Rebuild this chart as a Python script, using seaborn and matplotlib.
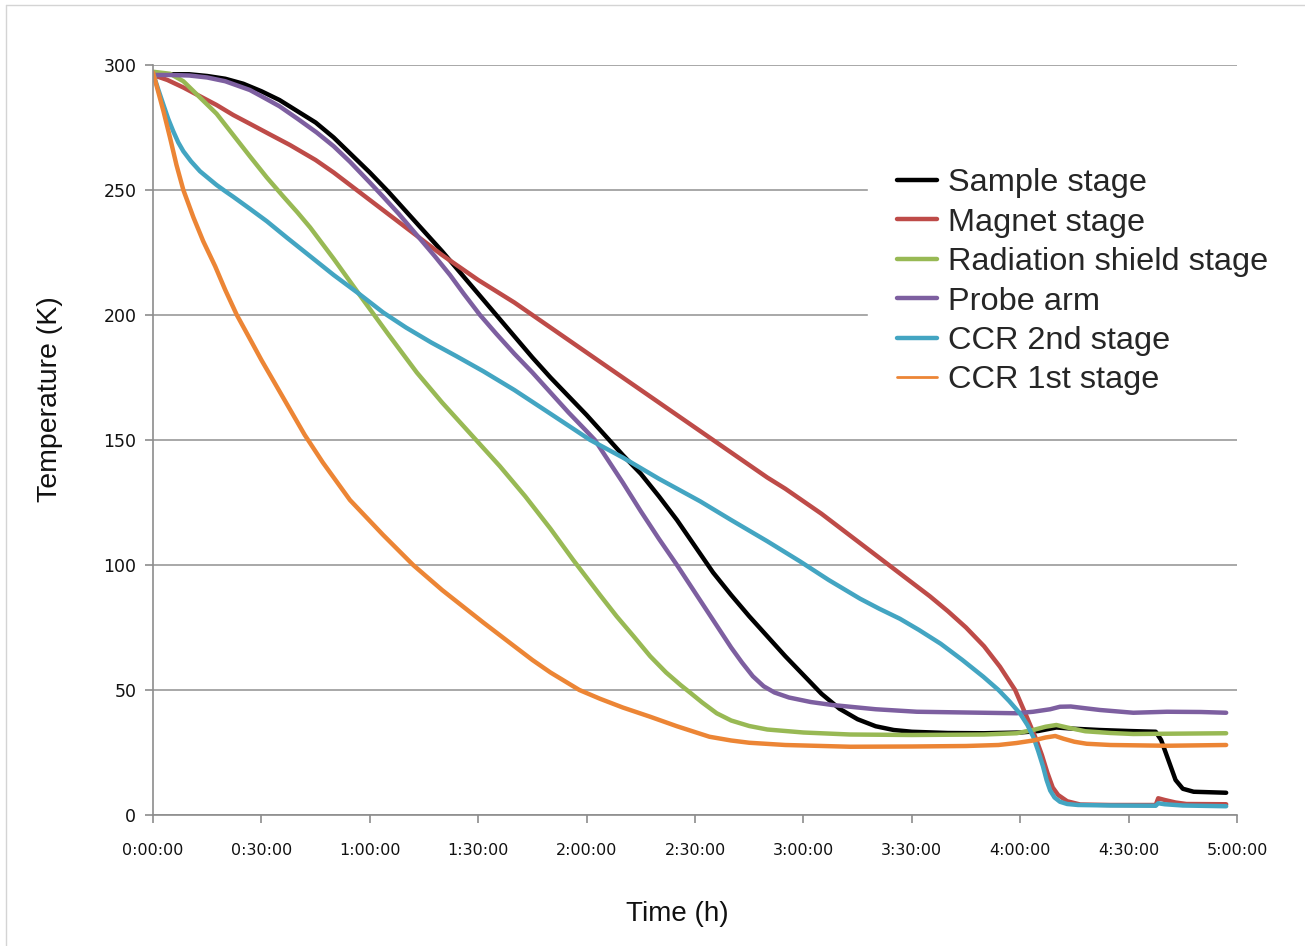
import matplotlib
matplotlib.use("Agg")
import matplotlib.pyplot as plt
from matplotlib.lines import Line2D
import seaborn as sns

# ==============================
# DATA  (time in minutes, temperature in K)
# ==============================
sample_t = [0, 5, 10, 15, 20, 25, 30, 35, 40, 45, 50, 55, 60, 65, 70, 75, 80, 85, 90,
            95, 100, 105, 110, 115, 120, 125, 130, 135, 140, 145, 150, 155, 160, 165,
            170, 175, 180, 185, 190, 195, 200, 205, 210, 220, 230, 240, 245, 250, 255,
            262, 270, 277.5, 279, 281, 283, 285, 288, 297]
sample_T = [296, 296.3, 296.3, 295.6, 294.5, 292.5, 289.5, 286, 281.5, 277, 271, 264,
            257, 249.5, 241.5, 233.5, 225.5, 217, 208.5, 200, 191.5, 183, 175, 167.5,
            160, 152, 144, 136.5, 127.5, 118, 107.5, 97, 88, 79.5, 71.5, 63.5, 56,
            48.5, 42.5, 38.3, 35.5, 34, 33.3, 32.8, 32.7, 33, 33.6, 35, 34.5, 34, 33.6,
            33.3, 30, 22, 14, 10.5, 9.3, 8.9]

magnet_t = [0, 4, 8.4, 13, 17.6, 22.2, 26.8, 32, 37.9, 45, 50, 55, 60, 65, 70, 75, 80,
            85, 90, 95, 100, 105, 110, 115, 120, 125, 130, 135, 140, 145, 150, 155, 160,
            165, 170, 175, 180, 185, 190, 195, 200, 205, 210, 215, 220, 225, 230, 234.4,
            238.6, 241.8, 244.5, 246, 247.5, 249, 250.5, 253, 256.6, 265, 277.5, 278.2,
            280, 283, 286, 297]
magnet_T = [296, 294, 291, 287.5, 284, 280, 276.5, 272.5, 268, 262, 257, 251.5, 246,
            240.5, 235, 229.5, 224, 219, 214, 209.5, 205, 200, 195, 190, 185, 180, 175,
            170, 165, 160, 155, 150, 145, 140, 135, 130.5, 125.5, 120.5, 115, 109.5, 104,
            98.5, 93, 87.5, 81.5, 75, 67.5, 59.3, 50, 39.3, 30, 24, 17, 11, 8, 5.5, 4.2,
            4, 4, 6.7, 6, 5, 4.4, 4.3]

shield_t = [0, 4.7, 8.4, 13, 17.6, 22.2, 26.8, 31.5, 36, 40, 43.5, 50, 58.2, 65, 73, 80,
            89.6, 96, 103, 110, 116.3, 120, 123.7, 128.3, 133, 137.6, 142, 146, 148.6,
            152, 156, 160, 165, 170, 180, 192.9, 210, 230, 239, 243.6, 247, 250, 253,
            258, 265, 271.3, 297]
shield_T = [297.3, 296.5, 293.5, 287, 280.5, 272, 263.5, 255, 247.5, 241, 235, 222.5,
            206, 192.5, 177, 165, 149.7, 139.5, 127.5, 114.5, 102, 95, 88, 79.5, 71.5,
            63.5, 57, 52, 49, 45, 40.7, 37.8, 35.6, 34.2, 33, 32.2, 32, 32.2, 32.7, 34,
            35.3, 36, 35, 33.5, 32.8, 32.4, 32.7]

probe_t = [0, 5, 10, 15, 20, 26.8, 30, 35, 40, 45.3, 50, 54.5, 60, 63.7, 68, 73, 78,
           82.2, 86, 90.5, 95, 100, 105, 110, 115, 120, 122.3, 125, 130, 135, 140, 145,
           150, 155, 160, 163, 166, 169, 172, 176, 182, 188, 200, 211.4, 225, 239,
           243.6, 248.3, 251, 254, 258, 262.1, 271.3, 280.6, 290, 297]
probe_T = [296, 296, 295.8, 295, 293.5, 290, 287.5, 283.5, 278.5, 273, 267.5, 261.3,
           253, 247.3, 240.5, 232, 223.5, 216, 208.5, 200, 192.5, 184.5, 177, 169, 161,
           153.5, 150, 144, 133, 121.5, 110.5, 100, 89, 78, 67, 61, 55.5, 51.5, 49, 47,
           45.2, 44, 42.3, 41.3, 41, 40.7, 41.3, 42.3, 43.3, 43.4, 42.7, 42, 40.9,
           41.3, 41.2, 40.9]

ccr2_t = [0, 1.5, 2.9, 4.2, 5.6, 7, 8.4, 10.5, 13, 15.5, 17.6, 20, 22.2, 26.8, 31.5, 37,
          43.5, 50, 57, 63.7, 70, 77, 84, 91.4, 100, 110, 121, 130, 140, 151.4, 160,
          170, 179, 187, 195.7, 201, 206.7, 212, 218, 224, 229.8, 234, 237, 240, 242,
          243.7, 245, 246.3, 247.3, 248.3, 249.5, 251, 253, 256, 265, 277.5, 278.2,
          280, 285, 297]
ccr2_T = [296.7, 290, 284, 278.5, 273.5, 269, 265.5, 261.5, 257.5, 254.5, 252, 249.5,
          247.3, 242.5, 237.5, 231, 223.5, 216, 208.5, 201, 195, 189, 183.5, 177.5,
          170, 160.5, 150, 143, 134.5, 125.5, 118, 109.5, 101.5, 94, 86.5, 82.5, 78.5,
          74, 68.5, 62, 55.3, 50, 45.5, 40.5, 36, 31, 25.5, 19.5, 14, 9.8, 7, 5.3, 4.4,
          4, 3.8, 3.7, 4.7, 4.3, 3.8, 3.5]

ccr1_t = [0, 1.5, 2.9, 4.7, 6.5, 8.4, 11.2, 13.9, 17.2, 20, 23.2, 26.8, 30, 34, 38, 42,
          47, 54.5, 63.7, 72, 80, 91.4, 100, 105, 110, 118, 123.7, 130, 137.6, 145, 154,
          160, 165, 175, 193, 210, 225, 234, 239, 243.6, 247, 249.7, 252, 255, 258.4,
          265, 280.6, 297]
ccr1_T = [297, 289, 281.5, 271, 260, 250, 239, 229.5, 219.5, 210, 200, 190.5, 182, 172,
          162, 152, 141, 126, 112, 100, 90, 77, 67.5, 62, 57, 50, 46.5, 43, 39.3, 35.5,
          31.3, 29.8, 28.9, 28, 27.3, 27.4, 27.6, 28, 28.8, 29.8, 31, 31.6, 30.5, 29.3,
          28.5, 28, 27.7, 28]

names = ["Sample stage", "Magnet stage", "Radiation shield stage", "Probe arm",
         "CCR 2nd stage", "CCR 1st stage"]
times = [sample_t, magnet_t, shield_t, probe_t, ccr2_t, ccr1_t]
temps = [sample_T, magnet_T, shield_T, probe_T, ccr2_T, ccr1_T]
colors = ["#000000", "#be4b48", "#98b954", "#7d5fa0", "#43a5c2", "#ec8535"]

x_ticks = list(range(0, 301, 30))
x_labels = [f"{m // 60}:{m % 60:02d}:00" for m in x_ticks]
y_ticks = [0, 50, 100, 150, 200, 250, 300]

# ==============================
# STYLE
# ==============================
sns.set_theme(style="white")
plt.rcParams["font.family"] = ["DejaVu Sans"]
label_font = ["Liberation Sans", "DejaVu Sans"]
grey = "#8c8c8c"

fig = plt.figure(figsize=(13.05, 9.46), dpi=100)
ax = fig.add_axes([153 / 1305, 1 - 815 / 946, 1084 / 1305, 750 / 946])

# ==============================
# LINES
# ==============================
for name, t, T, c in zip(names, times, temps, colors):
    sns.lineplot(x=t, y=T, ax=ax, color=c, linewidth=3.2, errorbar=None,
                 legend=False)

ax.set_xlim(0, 300)
ax.set_ylim(0, 300)
ax.set_xticks(x_ticks)
ax.set_xticklabels(x_labels)
ax.set_yticks(y_ticks)

ax.yaxis.grid(True, color="#a8a8a8", linewidth=1.4)
ax.xaxis.grid(False)
ax.set_axisbelow(True)
for side in ["top", "right"]:
    ax.spines[side].set_visible(False)
for side in ["left", "bottom"]:
    ax.spines[side].set_color(grey)
    ax.spines[side].set_linewidth(1.2)

ax.tick_params(axis="x", direction="out", length=6, width=1.2, color=grey,
               pad=14, labelsize=11.5, labelcolor="#111111", bottom=True)
ax.tick_params(axis="y", direction="out", length=6, width=1.2, color=grey,
               pad=6, labelsize=12.5, labelcolor="#111111", left=True)

ax.set_xlabel("Time (h)", fontsize=20, family=label_font, color="#111111")
ax.set_ylabel("Temperature (K)", fontsize=20.5, family=label_font, color="#111111",
              va="center")
ax.xaxis.set_label_coords((677 - 153) / 1084, (815 - 901) / 750)
ax.yaxis.set_label_coords((50 - 153) / 1084, (815 - 399) / 750)

# ==============================
# LEGEND
# ==============================
handles = [Line2D([0], [0], color=c, linewidth=3.2) for c in colors]
leg = ax.legend(handles, names, loc="upper left",
                bbox_to_anchor=(868 / 1305, 1 - 139 / 946),
                bbox_transform=fig.transFigure, borderaxespad=0,
                prop={"family": label_font, "size": 23.4},
                handlelength=1.22, handletextpad=0.35, labelspacing=0.29,
                borderpad=0.9, frameon=True, fancybox=False)
leg.get_frame().set_facecolor("white")
leg.get_frame().set_edgecolor("white")
leg.get_frame().set_alpha(1)
leg.get_lines()[-1].set_linewidth(2)

# light border round the picture
fig.add_artist(Line2D([6 / 1305, 6 / 1305], [0, 1 - 5 / 946],
                      transform=fig.transFigure, color="#d4d4d4", lw=1))
fig.add_artist(Line2D([6 / 1305, 1], [1 - 5 / 946, 1 - 5 / 946],
                      transform=fig.transFigure, color="#d4d4d4", lw=1))

fig.savefig("out.png", dpi=100, facecolor="white")
plt.close(fig)
